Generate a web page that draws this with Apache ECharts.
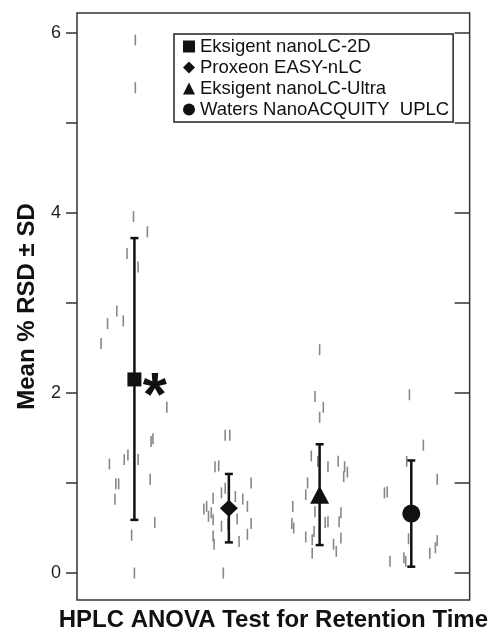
<!DOCTYPE html>
<html>
<head>
<meta charset="utf-8">
<script src="https://cdn.jsdelivr.net/npm/echarts@6/dist/echarts.min.js"></script>
<style>
  html, body { margin: 0; padding: 0; background: #fff; }
  #chart { width: 491px; height: 637px; }
</style>
</head>
<body>
<div id="chart"></div>
<script>
// systems, mean %RSD and SD range
var systems = ['Eksigent nanoLC-2D', 'Proxeon EASY-nLC', 'Eksigent nanoLC-Ultra', 'Waters NanoACQUITY  UPLC']
var symbols = ['rect', 'diamond', 'triangle', 'circle']
var groupX = [1.00, 2.02, 3.00, 3.99]
var meanRsd = [2.15, 0.72, 0.87, 0.66]
var sdLow = [0.59, 0.34, 0.31, 0.07]
var sdHigh = [3.72, 1.10, 1.43, 1.25]

// individual peptide %RSD values (jittered x, value)
var dashes2D = [[1.01, 5.92], [1.01, 5.39], [0.99, 3.96], [1.14, 3.79], [0.92, 3.55], [1.04, 3.40],
  [0.81, 2.91], [0.88, 2.80], [0.71, 2.77], [0.64, 2.55], [1.35, 1.84], [1.18, 1.46], [1.20, 1.49],
  [0.93, 1.31], [0.89, 1.26], [1.04, 1.26], [0.73, 1.21], [0.80, 0.99], [0.83, 0.99], [1.17, 1.04],
  [0.79, 0.82], [1.22, 0.56], [0.97, 0.42], [1.00, 0.00]]
var dashesEasy = [[1.98, 1.53], [2.03, 1.53], [1.87, 1.18], [1.91, 1.19], [2.26, 1.00], [1.98, 0.94],
  [1.94, 0.89], [1.85, 0.83], [2.09, 0.85], [2.17, 0.82], [2.22, 0.74], [1.75, 0.71], [1.78, 0.74],
  [1.80, 0.63], [1.83, 0.67], [1.85, 0.59], [2.11, 0.60], [1.94, 0.52], [2.01, 0.54], [2.26, 0.55],
  [2.22, 0.43], [1.85, 0.41], [1.86, 0.32], [2.13, 0.35], [1.96, 0.00]]
var dashesUltra = [[3.00, 2.48], [2.95, 1.96], [3.04, 1.84], [3.00, 1.73], [2.91, 1.30], [2.98, 1.24],
  [3.09, 1.18], [3.20, 1.24], [3.27, 1.18], [3.30, 1.12], [3.26, 1.07], [2.87, 1.00], [2.85, 0.87],
  [2.71, 0.74], [2.95, 0.68], [3.23, 0.67], [3.21, 0.57], [3.06, 0.56], [3.09, 0.57], [2.70, 0.55],
  [2.72, 0.50], [2.94, 0.46], [2.85, 0.40], [2.92, 0.37], [3.23, 0.39], [3.15, 0.32], [3.18, 0.24],
  [2.92, 0.22]]
var dashesAcquity = [[3.97, 1.98], [4.12, 1.42], [3.94, 1.24], [4.27, 1.04], [3.70, 0.89], [3.73, 0.90],
  [3.96, 0.38], [4.27, 0.36], [4.25, 0.28], [4.19, 0.22], [3.91, 0.17], [3.93, 0.13], [3.76, 0.13]]

var yTicks = [0, 1, 2, 3, 4, 5, 6]
var yLabels = [0, 2, 4, 6]
var asterisk = [[1.22, 2.13]]

var font = 'Liberation Sans, Arial, sans-serif'
var markerSizes = [[14, 14], [18, 17], [19, 18], [18, 18]]

function renderErrorBar(params, api) {
  var x = api.value(0)
  var top = api.coord([x, api.value(2)])
  var bottom = api.coord([x, api.value(1)])
  var cap = 4
  var style = { stroke: '#111', lineWidth: 2.5 }
  return {
    type: 'group',
    children: [
      { type: 'line', shape: { x1: top[0], y1: top[1], x2: bottom[0], y2: bottom[1] }, style: style },
      { type: 'line', shape: { x1: top[0] - cap, y1: top[1], x2: top[0] + cap, y2: top[1] }, style: style },
      { type: 'line', shape: { x1: bottom[0] - cap, y1: bottom[1], x2: bottom[0] + cap, y2: bottom[1] }, style: style }
    ]
  }
}

var series = [
  {
    name: 'peptides',
    type: 'scatter',
    z: 1,
    symbol: 'rect',
    symbolSize: [1.6, 11],
    itemStyle: { color: '#888', opacity: 1 },
    silent: true,
    data: dashes2D.concat(dashesEasy, dashesUltra, dashesAcquity)
  },
  {
    name: 'sd',
    type: 'custom',
    z: 2,
    renderItem: renderErrorBar,
    encode: { x: 0, y: [1, 2] },
    data: groupX.map(function(x, i) { return [x, sdLow[i], sdHigh[i]] })
  },
  {
    name: 'note',
    type: 'scatter',
    z: 4,
    symbolSize: 0,
    itemStyle: { opacity: 1 },
    label: {
      show: true,
      position: 'inside',
      formatter: '*',
      fontFamily: font,
      fontWeight: 'bold',
      fontSize: 62,
      color: '#111',
      offset: [0, 17]
    },
    data: asterisk
  }
]

systems.forEach(function(name, i) {
  series.push({
    name: name,
    type: 'scatter',
    z: 3,
    symbol: symbols[i],
    symbolSize: markerSizes[i],
    itemStyle: { color: '#111', opacity: 1 },
    data: [[groupX[i], meanRsd[i]]]
  })
})

var chart = echarts.init(document.getElementById('chart'))
chart.setOption({
  animation: false,
  textStyle: { fontFamily: font },
  grid: {
    left: 77,
    right: 18,
    top: 13,
    bottom: 33,
    show: true,
    borderColor: '#333',
    borderWidth: 1.5
  },
  legend: {
    orient: 'vertical',
    left: 174,
    top: 34,
    selectedMode: false,
    borderColor: '#222',
    borderWidth: 1.5,
    padding: [3, 4, 3, 9],
    itemWidth: 12,
    itemHeight: 12,
    itemGap: 2,
    textStyle: { fontSize: 18.5, color: '#111', fontFamily: font },
    data: systems.map(function(name, i) {
      return { name: name, icon: symbols[i], itemStyle: { color: '#111', opacity: 1 } }
    })
  },
  xAxis: {
    type: 'value',
    min: 0.38,
    max: 4.62,
    name: 'HPLC ANOVA Test for Retention Time',
    nameLocation: 'middle',
    nameGap: 8,
    nameTextStyle: {
      fontSize: 24,
      fontWeight: 'bold',
      color: '#111',
      fontFamily: font,
      verticalAlign: 'top'
    },
    axisLine: { show: false },
    axisTick: { show: false },
    axisLabel: { show: false },
    splitLine: { show: false }
  },
  yAxis: [
    {
      type: 'value',
      min: -0.3,
      max: 6.22,
      name: 'Mean % RSD \u00b1 SD',
      nameLocation: 'middle',
      nameGap: 38,
      nameTextStyle: { fontSize: 24, fontWeight: 'bold', color: '#111', fontFamily: font },
      axisLine: { show: false },
      axisTick: {
        show: true,
        length: 11,
        customValues: yTicks,
        lineStyle: { color: '#333', width: 1.5 }
      },
      axisLabel: {
        customValues: yLabels,
        fontSize: 18,
        color: '#222',
        margin: 16
      },
      splitLine: { show: false }
    },
    {
      type: 'value',
      position: 'right',
      min: -0.3,
      max: 6.22,
      axisLine: { show: false },
      axisTick: {
        show: true,
        inside: true,
        length: 15,
        customValues: yTicks,
        lineStyle: { color: '#333', width: 1.5 }
      },
      axisLabel: { show: false },
      splitLine: { show: false }
    }
  ],
  series: series
})
</script>
</body>
</html>
